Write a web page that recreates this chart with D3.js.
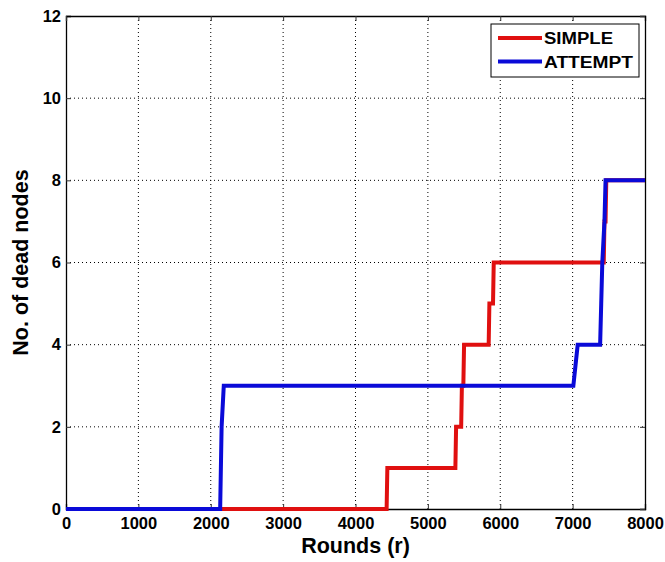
<!DOCTYPE html>
<html><head><meta charset="utf-8">
<script src="https://cdnjs.cloudflare.com/ajax/libs/d3/7.8.5/d3.min.js"></script>
<style>body{margin:0;background:#fff}svg{display:block}</style>
</head><body>
<script>
const xTicks = [0,1000,2000,3000,4000,5000,6000,7000,8000];
const yTicks = [0,2,4,6,8,10,12];
const seriesNames = ["SIMPLE","ATTEMPT"];
const seriesColors = ["#e01010","#0a0ad8"];
const simpleX = [0,4430,4440,5380,5390,5460,5470,5490,5500,5840,5850,5900,5910,7430,7440,7455,7465,8000];
const simpleY = [0,0,1,1,2,2,3,3,4,4,5,5,6,6,7,7,8,8];
const attemptX = [0,2130,2150,2180,7010,7040,7070,7380,7395,7410,7425,7440,7455,8000];
const attemptY = [0,0,2,3,3,3.5,4,4,5,6,6.5,7,8,8];

const W=665,H=562;
const m={l:66,r:20,t:16,b:53};
const svg=d3.select("body").append("svg").attr("width",W).attr("height",H);
const x=d3.scaleLinear().domain([0,8000]).range([m.l,W-m.r]);
const y=d3.scaleLinear().domain([0,12]).range([H-m.b,m.t]);
const font="Arial, 'Liberation Sans', sans-serif";

// grid
const g=svg.append("g");
g.selectAll(".gx").data(xTicks.slice(1,-1)).join("line")
 .attr("x1",d=>x(d)).attr("x2",d=>x(d)).attr("y1",y(0)).attr("y2",y(12))
 .attr("stroke","#000").attr("stroke-width",1).attr("stroke-dasharray","1,3");
g.selectAll(".gy").data(yTicks.slice(1,-1)).join("line")
 .attr("y1",d=>y(d)).attr("y2",d=>y(d)).attr("x1",x(0)).attr("x2",x(8000))
 .attr("stroke","#000").attr("stroke-width",1).attr("stroke-dasharray","1,3");

// axes
const ax=svg.append("g").attr("transform",`translate(0,${y(0)})`)
 .call(d3.axisBottom(x).tickValues(xTicks).tickSize(-5).tickPadding(8).tickFormat(d3.format("d")));
const ay=svg.append("g").attr("transform",`translate(${x(0)},0)`)
 .call(d3.axisLeft(y).tickValues(yTicks).tickSize(-5).tickPadding(5));
const axT=svg.append("g").attr("transform",`translate(0,${y(12)})`)
 .call(d3.axisTop(x).tickValues(xTicks).tickSize(-5).tickFormat(""));
const ayR=svg.append("g").attr("transform",`translate(${x(8000)},0)`)
 .call(d3.axisRight(y).tickValues(yTicks).tickSize(-5).tickFormat(""));
[ax,ay,axT,ayR].forEach(a=>{
 a.select(".domain").attr("stroke","#000").attr("stroke-width",1.3);
 a.selectAll(".tick line").attr("stroke","#333");
 a.selectAll("text").attr("font-family",font).attr("font-weight","bold").attr("font-size","16.5px").attr("fill","#000");
});

// lines
const line=d3.line().x(d=>x(d[0])).y(d=>y(d[1]));
const sData=simpleX.map((v,i)=>[v,simpleY[i]]);
const aData=attemptX.map((v,i)=>[v,attemptY[i]]);
svg.append("path").datum(sData).attr("d",line).attr("fill","none").attr("stroke",seriesColors[0]).attr("stroke-width",4);
svg.append("path").datum(aData).attr("d",line).attr("fill","none").attr("stroke",seriesColors[1]).attr("stroke-width",4);

// labels
svg.append("text").attr("x",(x(0)+x(8000))/2).attr("y",553).attr("text-anchor","middle")
 .attr("font-family",font).attr("font-weight","bold").attr("font-size","21.5px").text("Rounds (r)");
svg.append("text").attr("transform",`translate(28,${(y(0)+y(12))/2}) rotate(-90)`).attr("text-anchor","middle")
 .attr("font-family",font).attr("font-weight","bold").attr("font-size","21.5px").text("No. of dead nodes");

// legend
const lg=svg.append("g");
const lens=[69,89];
lg.append("rect").attr("x",491).attr("y",24).attr("width",148).attr("height",53)
 .attr("fill","#fff").attr("stroke","#000").attr("stroke-width",1);
seriesNames.forEach((n,i)=>{
 const yy=38+i*23.5;
 lg.append("line").attr("x1",498).attr("x2",542).attr("y1",yy).attr("y2",yy).attr("stroke",seriesColors[i]).attr("stroke-width",4);
 lg.append("text").attr("x",544).attr("y",yy+6).attr("font-family",font).attr("font-weight","bold").attr("font-size","16px")
  .attr("textLength",lens[i]).attr("lengthAdjust","spacingAndGlyphs").text(n);
});
</script>
</body></html>
